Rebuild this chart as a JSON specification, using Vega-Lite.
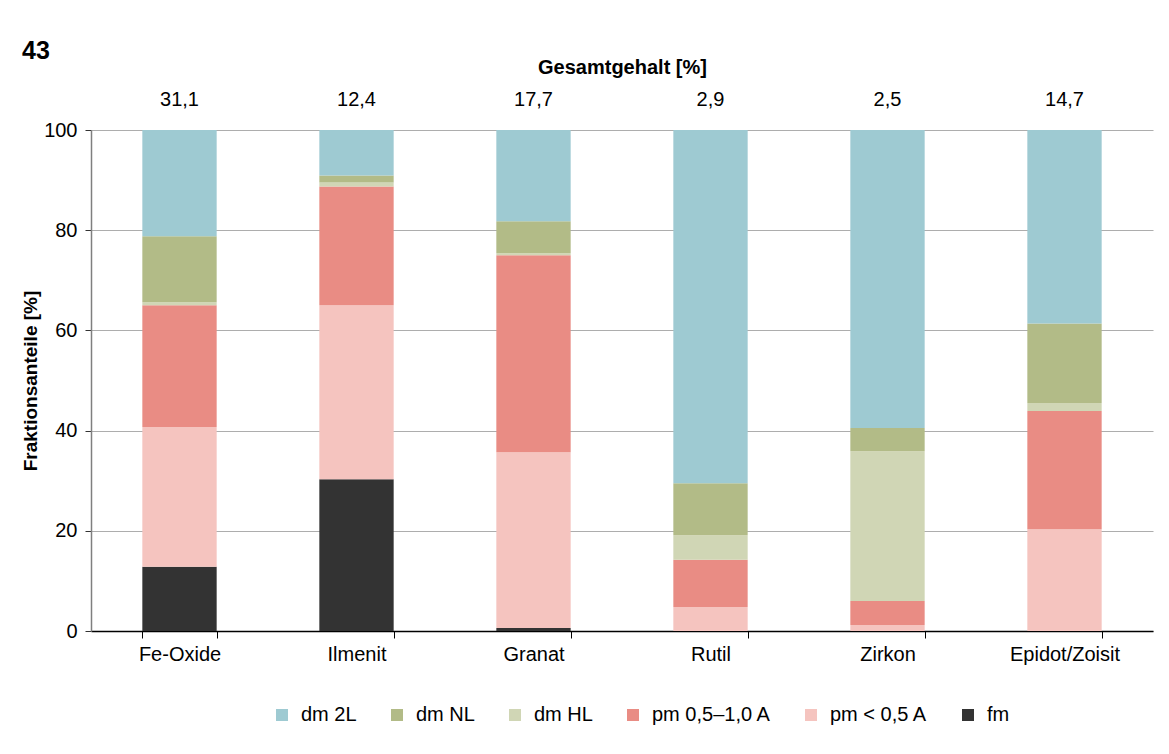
{
  "$schema": "https://vega.github.io/schema/vega-lite/v6.json",
  "width": 1062,
  "height": 501,
  "autosize": {"type": "none"},
  "padding": {"left": 91, "top": 130, "right": 16, "bottom": 123},
  "background": "#ffffff",
  "config": {
    "font": "Liberation Sans",
    "view": {"stroke": null},
    "locale": {"number": {"decimal": ",", "thousands": ".", "grouping": [3], "currency": ["", " €"]}}
  },
  "title": {
    "text": "43",
    "anchor": "start",
    "frame": "group",
    "dx": -69,
    "dy": 11,
    "fontSize": 25,
    "fontWeight": "bold",
    "color": "#000000"
  },
  "datasets": {
    "bars": [
      {"mineral": "Fe-Oxide", "fraktion": "fm", "anteil": 12.8},
      {"mineral": "Fe-Oxide", "fraktion": "pm < 0,5 A", "anteil": 27.9},
      {"mineral": "Fe-Oxide", "fraktion": "pm 0,5–1,0 A", "anteil": 24.3},
      {"mineral": "Fe-Oxide", "fraktion": "dm HL", "anteil": 0.6},
      {"mineral": "Fe-Oxide", "fraktion": "dm NL", "anteil": 13.2},
      {"mineral": "Fe-Oxide", "fraktion": "dm 2L", "anteil": 21.2},
      {"mineral": "Ilmenit", "fraktion": "fm", "anteil": 30.3},
      {"mineral": "Ilmenit", "fraktion": "pm < 0,5 A", "anteil": 34.7},
      {"mineral": "Ilmenit", "fraktion": "pm 0,5–1,0 A", "anteil": 23.7},
      {"mineral": "Ilmenit", "fraktion": "dm HL", "anteil": 0.8},
      {"mineral": "Ilmenit", "fraktion": "dm NL", "anteil": 1.4},
      {"mineral": "Ilmenit", "fraktion": "dm 2L", "anteil": 9.1},
      {"mineral": "Granat", "fraktion": "fm", "anteil": 0.6},
      {"mineral": "Granat", "fraktion": "pm < 0,5 A", "anteil": 35.1},
      {"mineral": "Granat", "fraktion": "pm 0,5–1,0 A", "anteil": 39.3},
      {"mineral": "Granat", "fraktion": "dm HL", "anteil": 0.4},
      {"mineral": "Granat", "fraktion": "dm NL", "anteil": 6.4},
      {"mineral": "Granat", "fraktion": "dm 2L", "anteil": 18.2},
      {"mineral": "Rutil", "fraktion": "fm", "anteil": 0},
      {"mineral": "Rutil", "fraktion": "pm < 0,5 A", "anteil": 4.8},
      {"mineral": "Rutil", "fraktion": "pm 0,5–1,0 A", "anteil": 9.4},
      {"mineral": "Rutil", "fraktion": "dm HL", "anteil": 4.9},
      {"mineral": "Rutil", "fraktion": "dm NL", "anteil": 10.4},
      {"mineral": "Rutil", "fraktion": "dm 2L", "anteil": 70.5},
      {"mineral": "Zirkon", "fraktion": "fm", "anteil": 0},
      {"mineral": "Zirkon", "fraktion": "pm < 0,5 A", "anteil": 1.2},
      {"mineral": "Zirkon", "fraktion": "pm 0,5–1,0 A", "anteil": 4.8},
      {"mineral": "Zirkon", "fraktion": "dm HL", "anteil": 29.9},
      {"mineral": "Zirkon", "fraktion": "dm NL", "anteil": 4.6},
      {"mineral": "Zirkon", "fraktion": "dm 2L", "anteil": 59.5},
      {"mineral": "Epidot/Zoisit", "fraktion": "fm", "anteil": 0},
      {"mineral": "Epidot/Zoisit", "fraktion": "pm < 0,5 A", "anteil": 20.3},
      {"mineral": "Epidot/Zoisit", "fraktion": "pm 0,5–1,0 A", "anteil": 23.6},
      {"mineral": "Epidot/Zoisit", "fraktion": "dm HL", "anteil": 1.6},
      {"mineral": "Epidot/Zoisit", "fraktion": "dm NL", "anteil": 15.9},
      {"mineral": "Epidot/Zoisit", "fraktion": "dm 2L", "anteil": 38.6}
    ],
    "totals": [
      {"mineral": "Fe-Oxide", "gesamt": 31.1},
      {"mineral": "Ilmenit", "gesamt": 12.4},
      {"mineral": "Granat", "gesamt": 17.7},
      {"mineral": "Rutil", "gesamt": 2.9},
      {"mineral": "Zirkon", "gesamt": 2.5},
      {"mineral": "Epidot/Zoisit", "gesamt": 14.7}
    ]
  },
  "resolve": {"axis": {"x": "independent"}},
  "layer": [
    {
      "data": {"name": "bars"},
      "transform": [
        {"calculate": "indexof(['fm', 'pm < 0,5 A', 'pm 0,5–1,0 A', 'dm HL', 'dm NL', 'dm 2L'], datum.fraktion)", "as": "stapel"}
      ],
      "mark": {"type": "bar"},
      "encoding": {
        "x": {
          "field": "mineral",
          "type": "nominal",
          "sort": ["Fe-Oxide", "Ilmenit", "Granat", "Rutil", "Zirkon", "Epidot/Zoisit"],
          "scale": {"paddingInner": 0.58, "paddingOuter": 0.29},
          "axis": {
            "title": null,
            "labelAngle": 0,
            "labelFontSize": 20,
            "labelColor": "#000000",
            "labelPadding": 6,
            "tickBand": "extent",
            "tickSize": 7,
            "tickColor": "#000000",
            "domainColor": "#000000",
            "domainWidth": 1.5
          }
        },
        "y": {
          "field": "anteil",
          "type": "quantitative",
          "stack": "zero",
          "scale": {"domain": [0, 100], "nice": false},
          "axis": {
            "title": "Fraktionsanteile [%]",
            "titleFontSize": 19,
            "titleFontWeight": "bold",
            "titleColor": "#000000",
            "titlePadding": 3,
            "values": [0, 20, 40, 60, 80, 100],
            "labelFontSize": 20,
            "labelColor": "#000000",
            "labelPadding": 8,
            "tickSize": 6,
            "tickColor": "#333333",
            "domainColor": "#7F7F7F",
            "domainWidth": 1.5,
            "gridColor": "#ADADAD",
            "gridWidth": 1
          }
        },
        "color": {
          "field": "fraktion",
          "type": "nominal",
          "sort": ["dm 2L", "dm NL", "dm HL", "pm 0,5–1,0 A", "pm < 0,5 A", "fm"],
          "scale": {
            "domain": ["dm 2L", "dm NL", "dm HL", "pm 0,5–1,0 A", "pm < 0,5 A", "fm"],
            "range": ["#9ECAD2", "#B2BB87", "#D0D6B5", "#E98C84", "#F5C4BF", "#333333"]
          },
          "legend": {
            "title": null,
            "orient": "none",
            "direction": "horizontal",
            "legendX": 181,
            "legendY": 575,
            "symbolType": "square",
            "symbolSize": 144,
            "symbolStrokeWidth": 0,
            "labelFontSize": 20,
            "labelColor": "#000000",
            "labelOffset": 9,
            "columnPadding": 30
          }
        },
        "order": {"field": "stapel", "type": "quantitative", "sort": "ascending"}
      }
    },
    {
      "data": {"name": "totals"},
      "mark": {"type": "text", "fontSize": 20, "color": "#000000", "baseline": "middle", "dy": -30},
      "encoding": {
        "x": {
          "field": "mineral",
          "type": "nominal",
          "sort": ["Fe-Oxide", "Ilmenit", "Granat", "Rutil", "Zirkon", "Epidot/Zoisit"],
          "axis": {
            "orient": "top",
            "title": "Gesamtgehalt [%]",
            "titleFontSize": 20,
            "titleFontWeight": "bold",
            "titleColor": "#000000",
            "titlePadding": 53,
            "labels": false,
            "ticks": false,
            "domain": false
          }
        },
        "y": {"datum": 100, "type": "quantitative"},
        "text": {"field": "gesamt", "type": "quantitative", "format": ".1f"}
      }
    }
  ]
}
